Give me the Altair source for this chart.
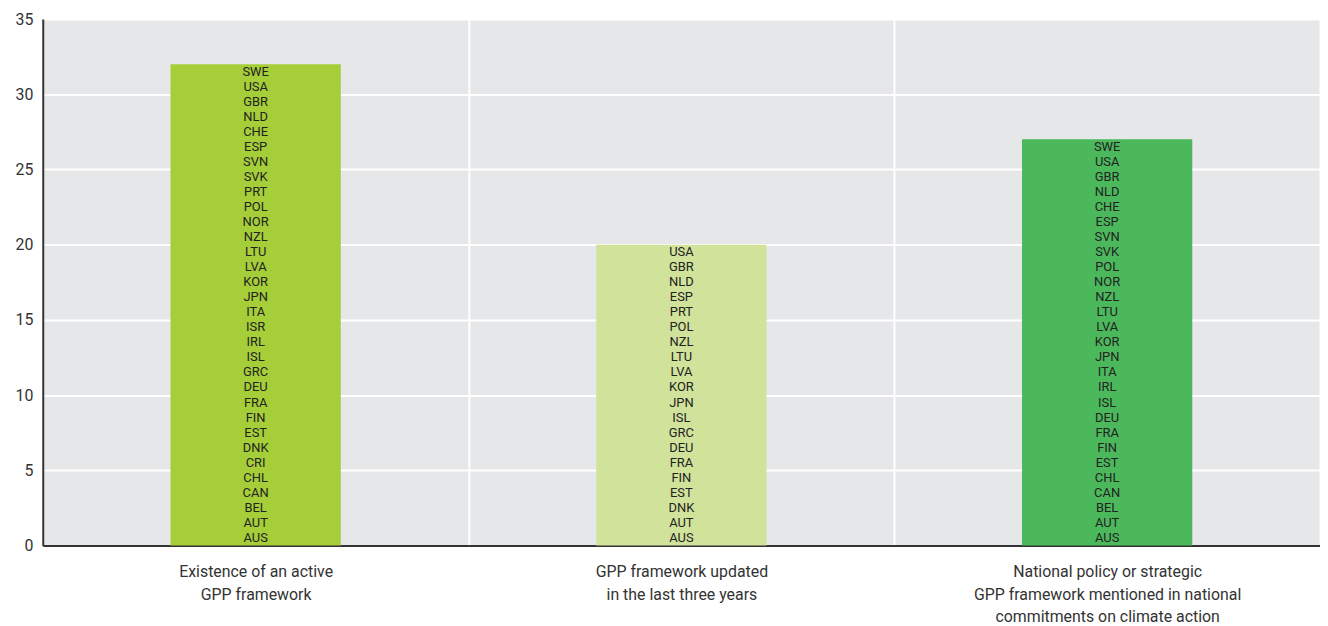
import altair as alt
import pandas as pd

categories = [
    "Existence of an active|GPP framework",
    "GPP framework updated|in the last three years",
    "National policy or strategic|GPP framework mentioned in national|commitments on climate action",
]

# Countries listed top to bottom as they appear in each bar
countries_active = ["SWE", "USA", "GBR", "NLD", "CHE", "ESP", "SVN", "SVK", "PRT", "POL",
                    "NOR", "NZL", "LTU", "LVA", "KOR", "JPN", "ITA", "ISR", "IRL", "ISL",
                    "GRC", "DEU", "FRA", "FIN", "EST", "DNK", "CRI", "CHL", "CAN", "BEL",
                    "AUT", "AUS"]
countries_updated = ["USA", "GBR", "NLD", "ESP", "PRT", "POL", "NZL", "LTU", "LVA", "KOR",
                     "JPN", "ISL", "GRC", "DEU", "FRA", "FIN", "EST", "DNK", "AUT", "AUS"]
countries_climate = ["SWE", "USA", "GBR", "NLD", "CHE", "ESP", "SVN", "SVK", "POL", "NOR",
                     "NZL", "LTU", "LVA", "KOR", "JPN", "ITA", "IRL", "ISL", "DEU", "FRA",
                     "FIN", "EST", "CHL", "CAN", "BEL", "AUT", "AUS"]

colors = ["#a6ce39", "#d1e39b", "#4cb85c"]

groups = [countries_active, countries_updated, countries_climate]

bars = pd.DataFrame({"category": categories, "count": [len(g) for g in groups]})

rows = []
for cat, g in zip(categories, groups):
    n = len(g)
    for i, c in enumerate(g):
        rows.append({"category": cat, "country": c, "pos": (n - 1 - i) + 0.5})
labels = pd.DataFrame(rows)

FONT = "Roboto, Liberation Sans Narrow, sans-serif"

x_enc = alt.X(
    "category:N",
    sort=categories,
    scale=alt.Scale(paddingInner=0, paddingOuter=0),
    axis=alt.Axis(
        title=None,
        labelAngle=0,
        labelExpr="split(datum.label, '|')",
        labelFontSize=16,
        labelColor="#333333",
        labelLineHeight=23,
        labelPadding=18,
        labelLimit=0,
        ticks=False,
        grid=True,
        gridColor="#ffffff",
        gridWidth=2,
        tickBand="extent",
        domainColor="#333333",
        domainWidth=2,
    ),
)

bar = alt.Chart(bars).mark_bar(width=alt.RelativeBandSize(0.4)).encode(
    x=x_enc,
    y=alt.Y(
        "count:Q",
        scale=alt.Scale(domain=[0, 35], nice=False),
        axis=alt.Axis(
            title=None,
            values=[0, 5, 10, 15, 20, 25, 30, 35],
            labelFontSize=16,
            labelColor="#333333",
            labelPadding=10,
            ticks=False,
            grid=True,
            gridColor="#ffffff",
            gridWidth=2,
            domainColor="#333333",
            domainWidth=2,
        ),
    ),
    color=alt.Color("category:N", sort=categories,
                    scale=alt.Scale(domain=categories, range=colors), legend=None),
)

text = alt.Chart(labels).mark_text(
    fontSize=13, color="#222222", font=FONT, baseline="middle", align="center"
).encode(
    x=alt.X("category:N", sort=categories),
    y=alt.Y("pos:Q"),
    text="country:N",
)

chart = alt.layer(bar, text).properties(
    width=1286,
    height=530,
    padding={"left": 7, "top": 1, "right": 0, "bottom": 0},
).configure_view(
    fill="#e6e7e9", strokeWidth=0
).configure_axis(
    labelFont=FONT
)

chart.save("out.html", embed_options={"renderer": "svg", "actions": False})
